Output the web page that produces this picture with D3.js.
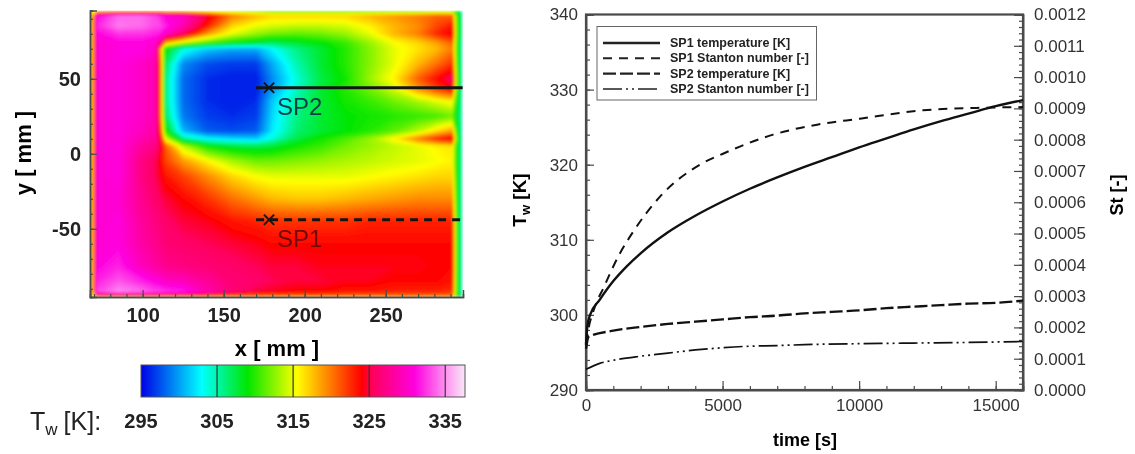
<!DOCTYPE html>
<html>
<head>
<meta charset="utf-8">
<script src="https://cdn.jsdelivr.net/npm/d3@7"></script>
<style>
  html, body { margin: 0; padding: 0; background: #fff; overflow: hidden; }
  svg { display: block; filter: blur(0.55px); font-family: "Liberation Sans", Arial, sans-serif; }
</style>
</head>
<body>
<div id="chart"></div>
<script>
// Temperature map: grid positions [mm] and wall temperature [K]
const gridX = [68,69.5,71.5,85,100,108,111,114,125,140,155,170,180,195,210,225,240,255,270,282,291,294,297];
const gridY = [95,92,85,80,74,70,60,50,43,35,25,15,10,5,-5,-15,-30,-45,-60,-75,-85,-92,-95];
const gridT = [
  [318,315,316,317,317,317,317,316,316,315,314,313,312,312,312,312,312,312,312,313,313,308,305],
  [320,317,331,334,334,333,332,331,330,325,320,318,317,317,317,317,318,319,320,321,321,310,306],
  [320,317,332,334.5,334,333,333,332,329,323,317,315,314.5,314,314,314.5,316,318,319.5,322,323.5,310,306],
  [320,317,331,332.5,332.5,332,331.5,330.5,326,319,315,313,312,311.5,312,313,315,318,320,323,324.5,310,306],
  [320,317,330.5,331,331,330,327,318,314,311,309,308,307,308,309,310.5,313,315.5,317,319,321,310,305],
  [320,317,330.5,331,331,330,318,309,304,301.5,300.5,300.5,303,306,308,310,312.5,315,316.5,318,320,310,305],
  [320,317,330.5,331,330,329,320,307,299.5,297.5,297,297,300.5,305,308,310,312.5,315,318,320.5,322.5,310,305],
  [320,317,330.5,331,330,329,320,306,298.5,296.5,296,296,299.5,304,307.5,309.5,313,316,321,324,326,311,305],
  [320,317,330.5,331,330,329,320,306,298.5,296.5,296,296,300,304.5,308,310,312,314.5,319,322,324,310,305],
  [320,317,330.5,331,330,329,320,306,298.5,296.5,296,296.5,301.5,305.5,308,309.5,310.5,312,313.5,315,316,309,305],
  [320,317,330.5,331,330,329,320,307,299,297,296.5,297,302,306,308,309,309.5,310,310.5,311,312,308,305],
  [320,317,330.5,331,329.5,328.5,322,310,301,298,297.5,298,302.5,306.5,308,309,310,311.5,314,317,319,309,305],
  [320,317,330.5,331,329,328,324,315,306,303,302,301.5,304,307.5,309.5,311,313,316,320,323,324.5,310,305],
  [320,317,330.5,331,328,327,325,321,314,309.5,308,307.5,308,309.5,310.5,312,313,314,315,316,316.5,309,305],
  [320,317,330.5,331,327,325.5,324,322,319,316,313.5,312,312,312.5,313,313.5,314,314.5,315,315.5,316,309,305],
  [320,317,330.5,331,327,325.5,324.5,323.5,322,319.5,317,315.5,315,315,315,315,315.5,316,316.5,317,317,309,305],
  [320,317,330.5,330.5,327.5,326,325.5,325,324,322.5,320.5,319,318,317.5,317.5,318,318.5,319,319.5,319.5,319.5,309,305],
  [320,317,330.5,331,328,327,326.5,326,325,324.5,323.5,323,322.5,322.5,322.5,322.5,323,323,323,323,323,309,305],
  [320,317,330.5,331,328.5,327.5,327,326.5,326,325.5,325,324.5,324,324,324,324,324,324,324,324,324,309,305],
  [320,317,331,332,329.5,328.5,328,327.5,327,326.5,326,325.5,325,325,324.5,324.5,324.5,324.5,324.5,324,324,309,305],
  [320,317,332,333.5,332,331,330.5,330,329.5,328,326.5,326,325.5,325,325,324.5,324.5,324,324,324,323.5,309,305],
  [320,317,333,335,334,333,333,332.5,332,329,326.5,325,324.5,324,324,323.5,323.5,323,323,323,322.5,309,305],
  [320,316,320,320,320,320,320,320,320,320,320,320,320,320,320,320,320,320,320,320,320,309,305]
];

// Colour legend
const colorStops = [295,303,309,315.5,324,325.5,331,335,337.6];
const colorValues = ["#0000e6","#00ffff","#00e600","#ffff00","#ff0000","#ff0060","#ff00e0","#ff90f0","#f8e8f8"];
const legendTicks = [295,305,315,325,335];

// Measuring points on the map
const probeNames = ["SP1","SP2"];
const probeX = [178,178];
const probeY = [-44,44];
const probeEndX = [297.5,297.5];
const probeStartX = [170,170];

// Time series
const timeT1 = [0,50,150,500,1000,1500,2000,3000,4000,5000,6000,7000,8000,9000,10000,11000,12000,13000,14000,15000,16000];
const sp1Temp = [296,298.5,300,302,304.5,306.5,308.2,311,313.2,315.1,316.8,318.3,319.7,321,322.3,323.5,324.7,325.8,326.8,327.8,328.6];
const timeSt1 = [0,100,300,660,1200,1760,2710,4170,5015,6850,8460,10030,12340,14540,16000];
const sp1Stanton = [0.00015,0.0002,0.00026,0.00033,0.00043,0.00051,0.000618,0.00072,0.000755,0.000816,0.000848,0.000867,0.000894,0.000902,0.000904];
const timeT2 = [0,100,1000,2000,3000,4000,5000,6000,7000,8000,9000,10000,11000,12000,13000,14000,15000,16000];
const sp2Temp = [295.5,297.1,297.9,298.4,298.8,299.1,299.4,299.7,299.9,300.2,300.4,300.6,300.9,301.1,301.3,301.5,301.6,301.9];
const timeSt2 = [0,500,1000,2000,3000,4000,5000,6000,7000,8000,10000,12000,14000,16000];
const sp2Stanton = [0.000066,0.000085,0.000095,0.000108,0.000118,0.000128,0.000135,0.00014,0.000142,0.000145,0.000148,0.00015,0.000152,0.000155];

const legendNames = ["SP1 temperature [K]","SP1 Stanton number [-]","SP2 temperature [K]","SP2 Stanton number [-]"];
const legendDash = [null,"9 7","13 4","19 4 2 4 2 4"];
const legendWidth = [2.4,2,2.4,1.7];

const svg = d3.select("#chart").append("svg")
  .attr("width", 1135)
  .attr("height", 454);

const axisColor = "#4a4a4a";

// ---------- left panel ----------
const mapX = d3.scaleLinear().domain([67.5, 297.7]).range([90, 463]);
const mapY = d3.scaleLinear().domain([95.5, -95.5]).range([10.5, 297]);

const tempColor = d3.scaleLinear().domain(colorStops).range(colorValues).clamp(true);

// d3.contours works on a regular grid, so send its cell coordinates through the real mm positions
const colToPx = d3.scaleLinear().domain(gridX.map((d, i) => i + 0.5)).range(gridX.map(d => mapX(d))).clamp(true);
const rowToPx = d3.scaleLinear().domain(gridY.map((d, j) => j + 0.5)).range(gridY.map(d => mapY(d))).clamp(true);

const contours = d3.contours()
  .size([gridX.length, gridY.length])
  .thresholds(d3.range(295, 338, 0.25))(gridT.flat());

const gridPath = d3.geoPath(d3.geoTransform({
  point(x, y) { this.stream.point(colToPx(x), rowToPx(y)); }
}));

const defs = svg.append("defs");
defs.append("clipPath").attr("id", "mapClip").append("rect")
  .attr("x", 90).attr("y", 10.5).attr("width", 373).attr("height", 286.5);
defs.append("filter").attr("id", "mapBlur")
  .attr("x", "-5%").attr("y", "-5%").attr("width", "110%").attr("height", "110%")
  .append("feGaussianBlur").attr("stdDeviation", 1.5);

svg.append("g").attr("clip-path", "url(#mapClip)")
  .append("g").attr("filter", "url(#mapBlur)")
  .selectAll("path")
  .data(contours)
  .join("path")
    .attr("d", gridPath)
    .attr("fill", d => tempColor(d.value));

const mapAxisX = d3.axisBottom(mapX).tickValues([100,150,200,250]).tickSize(-7).tickPadding(11);
const mapAxisY = d3.axisLeft(mapY).tickValues([-50,0,50]).tickSize(-7).tickPadding(9).tickFormat(d => String(d));

const mapXg = svg.append("g").attr("transform", "translate(0,297)").call(mapAxisX);
const mapYg = svg.append("g").attr("transform", "translate(90,0)").call(mapAxisY);

svg.append("g").attr("transform", "translate(0,297)")
  .call(d3.axisBottom(mapX).tickValues(d3.range(70, 297, 10)).tickSize(-3).tickFormat(""));
svg.append("g").attr("transform", "translate(90,0)")
  .call(d3.axisLeft(mapY).tickValues(d3.range(-90, 91, 10)).tickSize(-3).tickFormat(""));

[mapXg, mapYg].forEach(g => g.selectAll("text")
  .style("font-size", "20px").style("font-weight", "bold").attr("fill", "#222"));

// probe lines and stars
probeNames.forEach((name, i) => {
  const py = mapY(probeY[i]);
  svg.append("line")
    .attr("x1", mapX(probeStartX[i])).attr("x2", mapX(probeEndX[i]))
    .attr("y1", py).attr("y2", py)
    .attr("stroke", "#141414")
    .attr("stroke-width", name === "SP2" ? 3.2 : 2.8)
    .attr("stroke-dasharray", name === "SP1" ? "8 6" : null);
  svg.append("path")
    .attr("d", d3.symbol(d3.symbolTimes, 70))
    .attr("transform", `translate(${mapX(probeX[i])},${py})`)
    .attr("fill", "none")
    .attr("stroke", "#141414")
    .attr("stroke-width", 2);
  svg.append("text")
    .attr("x", mapX(probeX[i]) + 8)
    .attr("y", py + 27)
    .attr("font-size", 24)
    .attr("fill", name === "SP1" ? "#700808" : "#0a3f4a")
    .text(name);
});

svg.append("text")
  .attr("x", 277).attr("y", 356)
  .attr("text-anchor", "middle")
  .style("font-size", "22px").style("font-weight", "bold")
  .text("x [ mm ]");

svg.append("text")
  .attr("transform", "translate(31,153) rotate(-90)")
  .attr("text-anchor", "middle")
  .style("font-size", "22px").style("font-weight", "bold")
  .text("y [ mm ]");

// colour bar
const barX = d3.scaleLinear().domain([295, 337.6]).range([141, 465]);
const gradient = defs.append("linearGradient").attr("id", "tempGradient");
gradient.selectAll("stop")
  .data(colorStops)
  .join("stop")
    .attr("offset", d => (d - 295) / (337.6 - 295))
    .attr("stop-color", d => tempColor(d));

svg.append("rect")
  .attr("x", barX(295)).attr("y", 365)
  .attr("width", barX(337.6) - barX(295)).attr("height", 32)
  .attr("fill", "url(#tempGradient)")
  .attr("stroke", "#555").attr("stroke-width", 1);

svg.append("g").selectAll("line")
  .data(legendTicks.slice(1))
  .join("line")
    .attr("x1", d => barX(d)).attr("x2", d => barX(d))
    .attr("y1", 365).attr("y2", 397)
    .attr("stroke", "#333").attr("stroke-width", 1.2);

svg.append("g").selectAll("text")
  .data(legendTicks)
  .join("text")
    .attr("x", d => barX(d))
    .attr("y", 428)
    .attr("text-anchor", "middle")
    .style("font-size", "20px").style("font-weight", "bold").attr("fill", "#222")
    .text(d => d);

const twLabel = svg.append("text").attr("x", 30).attr("y", 430)
  .style("font-size", "25px").attr("fill", "#222");
twLabel.append("tspan").text("T");
twLabel.append("tspan").attr("dy", 5).style("font-size", "17px").text("w");
twLabel.append("tspan").attr("dy", -5).attr("dx", 6).text("[K]:");

// ---------- right panel ----------
const margin = {top: 14.5, right: 1023, bottom: 390, left: 586};

const x = d3.scaleLinear().domain([0, 16000]).range([margin.left, margin.right]);
const yT = d3.scaleLinear().domain([290, 340]).range([margin.bottom, margin.top]);
const yS = d3.scaleLinear().domain([0, 0.0012]).range([margin.bottom, margin.top]);

const bottomAxis = svg.append("g").attr("transform", `translate(0,${margin.bottom})`)
  .call(d3.axisBottom(x).tickValues([0,5000,10000,15000]).tickSize(-9).tickPadding(9).tickFormat(d3.format("d")));
const leftAxis = svg.append("g").attr("transform", `translate(${margin.left},0)`)
  .call(d3.axisLeft(yT).tickValues([290,300,310,320,330,340]).tickSize(-8).tickPadding(8));
const rightAxis = svg.append("g").attr("transform", `translate(${margin.right},0)`)
  .call(d3.axisRight(yS).tickValues(d3.range(0, 13).map(d => d / 10000)).tickSize(-9).tickPadding(11).tickFormat(d3.format(".4f")));

// minor ticks
svg.append("g").attr("transform", `translate(0,${margin.bottom})`)
  .call(d3.axisBottom(x).tickValues(d3.range(0, 16001, 1000)).tickSize(-4).tickFormat(""));
svg.append("g").attr("transform", `translate(${margin.left},0)`)
  .call(d3.axisLeft(yT).tickValues(d3.range(290, 341, 2)).tickSize(-4).tickFormat(""));
svg.append("g").attr("transform", `translate(${margin.right},0)`)
  .call(d3.axisRight(yS).tickValues(d3.range(0, 61).map(d => d * 0.00002)).tickSize(-4).tickFormat(""));

[bottomAxis, leftAxis, rightAxis].forEach(g => g.selectAll("text")
  .style("font-size", "17px").attr("fill", "#333"));

svg.append("rect")
  .attr("x", margin.left).attr("y", margin.top)
  .attr("width", margin.right - margin.left).attr("height", margin.bottom - margin.top)
  .attr("fill", "none").attr("stroke", axisColor).attr("stroke-width", 2.2);

svg.selectAll(".domain").attr("stroke", axisColor).attr("stroke-width", 1.5);
svg.selectAll(".tick line").attr("stroke", axisColor).attr("stroke-width", 1.2);

const lineT = d3.line().x(d => x(d[0])).y(d => yT(d[1])).curve(d3.curveMonotoneX);
const lineS = d3.line().x(d => x(d[0])).y(d => yS(d[1])).curve(d3.curveMonotoneX);

const curves = [
  lineT(d3.zip(timeT1, sp1Temp)),
  lineS(d3.zip(timeSt1, sp1Stanton)),
  lineT(d3.zip(timeT2, sp2Temp)),
  lineS(d3.zip(timeSt2, sp2Stanton))
];

svg.append("g").selectAll("path")
  .data(curves)
  .join("path")
    .attr("d", d => d)
    .attr("fill", "none")
    .attr("stroke", "#111")
    .attr("stroke-width", (d, i) => legendWidth[i])
    .attr("stroke-dasharray", (d, i) => legendDash[i]);

// legend
const legendY = d3.scalePoint().domain(legendNames).range([43, 89]);
const legend = svg.append("g");
legend.append("rect")
  .attr("x", 597).attr("y", 26.5)
  .attr("width", 219.5).attr("height", 73.5)
  .attr("fill", "#fff").attr("stroke", "#666").attr("stroke-width", 1);

legendNames.forEach((name, i) => {
  legend.append("line")
    .attr("x1", 603).attr("x2", 660)
    .attr("y1", legendY(name)).attr("y2", legendY(name))
    .attr("stroke", "#222")
    .attr("stroke-width", legendWidth[i])
    .attr("stroke-dasharray", legendDash[i]);
  legend.append("text")
    .attr("x", 670).attr("y", legendY(name) + 4)
    .style("font-size", "12.5px").style("font-weight", "bold").attr("fill", "#222")
    .text(name);
});

// axis titles
svg.append("text")
  .attr("x", 805).attr("y", 446)
  .attr("text-anchor", "middle")
  .style("font-size", "18px").style("font-weight", "bold")
  .text("time [s]");

const twTitle = svg.append("text")
  .attr("transform", "translate(526,200) rotate(-90)")
  .attr("text-anchor", "middle")
  .style("font-size", "19px").style("font-weight", "bold");
twTitle.append("tspan").text("T");
twTitle.append("tspan").attr("dy", 4).style("font-size", "13px").text("w");
twTitle.append("tspan").attr("dy", -4).text(" [K]");

svg.append("text")
  .attr("transform", "translate(1123,195) rotate(-90)")
  .attr("text-anchor", "middle")
  .style("font-size", "18px").style("font-weight", "bold")
  .text("St [-]");
</script>
</body>
</html>
